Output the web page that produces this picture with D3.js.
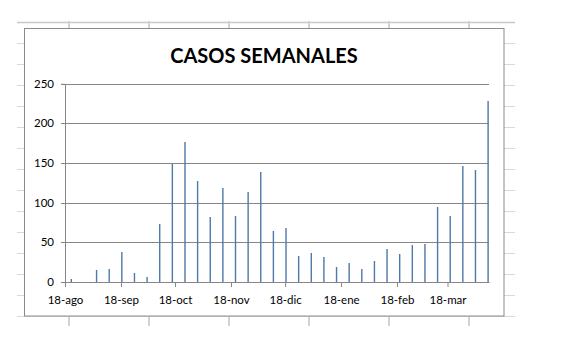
<!DOCTYPE html>
<html><head><meta charset="utf-8">
<script src="https://cdn.jsdelivr.net/npm/d3@7"></script>
<style>html,body{margin:0;padding:0;background:#fff;} svg{display:block;}</style>
</head><body><svg id="c" width="561" height="355"></svg>
<script>
const chartTitle = "CASOS SEMANALES";
const weeks = ["2020-08-21","2020-08-28","2020-09-04","2020-09-11","2020-09-18","2020-09-25",
  "2020-10-02","2020-10-09","2020-10-16","2020-10-23","2020-10-30","2020-11-06","2020-11-13",
  "2020-11-20","2020-11-27","2020-12-04","2020-12-11","2020-12-18","2020-12-25","2021-01-01",
  "2021-01-08","2021-01-15","2021-01-22","2021-01-29","2021-02-05","2021-02-12","2021-02-19",
  "2021-02-26","2021-03-05","2021-03-12","2021-03-19","2021-03-26","2021-04-02","2021-04-09"];
const cases = [4,0,15,16,38,11,6,73,149,177,128,82,119,83,113,139,64,68,33,36,31,19,24,17,26,41,35,47,48,95,83,146,141,228];
const yTicks = [0,50,100,150,200,250];
const monthTicks = ["2020-08-18","2020-09-18","2020-10-18","2020-11-18","2020-12-18","2021-01-18","2021-02-18","2021-03-18"];
const monthLabels = ["18-ago","18-sep","18-oct","18-nov","18-dic","18-ene","18-feb","18-mar"];
const xDomain = ["2020-08-18","2021-04-10"];

const parse = d3.utcParse("%Y-%m-%d");
const svg = d3.select("#c");
const FONT = "Lato, 'Open Sans', sans-serif";

// spreadsheet background grid (cropped region)
const sheet = svg.append("g");
const rows = d3.range(22, 317, 21);
const cols = [69,149,229,309,389,469];
rows.forEach(r => {
  sheet.append("line").attr("x1",17).attr("x2",515).attr("y1",r+0.5).attr("y2",r+0.5)
    .attr("stroke",r===22?"#c8c8c8":"#d9d9d9").attr("stroke-width",r===22?1.6:1);
});
cols.forEach(c => {
  sheet.append("line").attr("x1",c).attr("x2",c).attr("y1",21).attr("y2",326)
    .attr("stroke","#d2d2d2").attr("stroke-width",2);
});

// chart area
svg.append("rect").attr("x",24.5).attr("y",28.5).attr("width",479.5).attr("height",287.5)
  .attr("fill","#fff").attr("stroke","#8a8a8a").attr("stroke-width",1);

svg.append("text").attr("x",264).attr("y",62.7).attr("text-anchor","middle")
  .attr("font-family",FONT).attr("font-weight","bold").attr("font-size",20)
  .attr("fill","#000").text(chartTitle);

const x = d3.scaleUtc().domain(xDomain.map(parse)).range([65, 489]);
const y = d3.scaleLinear().domain([0,250]).rangeRound([282, 83.8]);

// gridlines
svg.append("g").attr("transform","translate(489,0)")
  .call(d3.axisLeft(y).tickValues(yTicks.filter(v=>v>0)).tickSize(428).tickFormat(""))
  .call(g=>g.select(".domain").remove())
  .call(g=>g.selectAll("line").attr("stroke","#868686"));

// bars
svg.append("g").selectAll("rect").data(cases).join("rect")
  .attr("x",(d,i)=>x(d3.utcHour.offset(parse(weeks[i]),12))-0.7)
  .attr("width",1.4)
  .attr("y",d=>y(d))
  .attr("height",d=>y(0)-y(d))
  .attr("fill","#4f79a8");

// y axis
const ya = svg.append("g").attr("transform","translate(65,0)")
  .call(d3.axisLeft(y).tickValues(yTicks).tickSize(4).tickPadding(7));
ya.select(".domain").attr("stroke","#868686");
ya.selectAll("line").attr("stroke","#868686");
ya.selectAll("text").attr("font-family",FONT).attr("font-size",11.5).attr("fill","#000");

// x axis
const xa = svg.append("g").attr("transform","translate(0,282)")
  .call(d3.axisBottom(x).tickValues(monthTicks.map(parse)).tickFormat((d,i)=>monthLabels[i])
    .tickSizeInner(5).tickSizeOuter(0).tickPadding(9));
xa.select(".domain").attr("stroke","#868686");
xa.selectAll("line").attr("stroke","#868686");
xa.selectAll("text").attr("font-family",FONT).attr("font-size",11.5).attr("fill","#000");
</script></body></html>
